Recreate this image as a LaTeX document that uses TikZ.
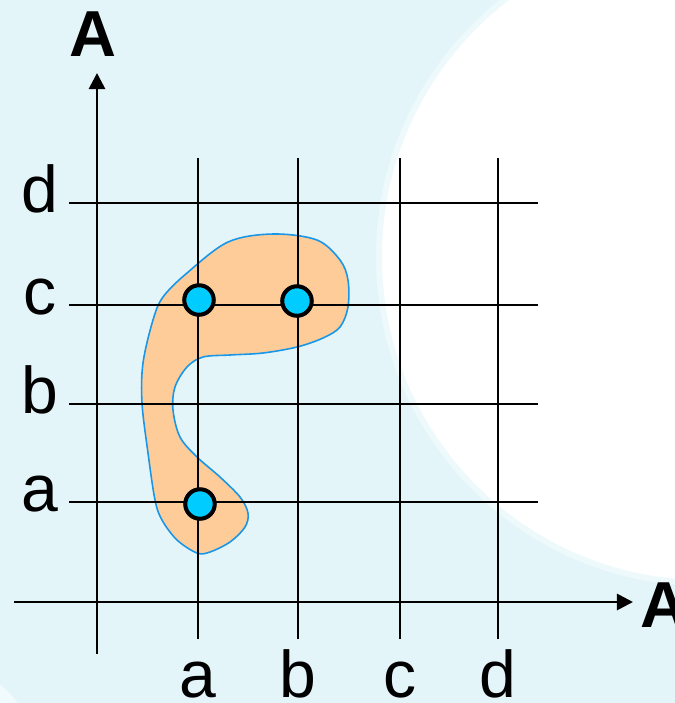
\documentclass[tikz,border=0pt]{standalone}
\usepackage{fontspec}
\setmainfont{Liberation Sans}
\usetikzlibrary{arrows.meta}
\definecolor{bgblue}{RGB}{228,245,250}
\definecolor{blobfill}{RGB}{253,204,153}
\definecolor{blobline}{RGB}{25,150,230}
\definecolor{dotcyan}{RGB}{0,204,255}

\begin{document}
\begin{tikzpicture}[
    lbl/.style={font=\fontsize{18.8}{22}\selectfont,inner sep=0pt},
    axl/.style={font=\fontsize{18.5}{22}\selectfont\bfseries,inner sep=0pt,anchor=base},
    grd/.style={line width=0.7pt},
    axis/.style={line width=0.8pt,-{Triangle[length=1.6mm,width=1.6mm]}},
    pt/.style={circle,draw,line width=1.15pt,fill=dotcyan,minimum size=2.95mm,inner sep=0pt}
  ]
    % background and the pale disc
    \fill[bgblue] (-0.97,-1.01) rectangle (5.78,6.02);
    \useasboundingbox (-0.97,-1.01) rectangle (5.78,6.02);
    \begin{scope}
      \clip (-0.97,-1.01) rectangle (5.78,6.02);
      \fill[white,opacity=0.4] (6.08,3.45) circle (3.29);
      \fill[white] (6.08,3.45) circle (3.23);
      \fill[white,opacity=0.5] (-1.6,-1.6) circle (1.0);
    \end{scope}

    % grid
    \foreach \x/\n in {1.01/a,2.01/b,3.03/c,4.01/d} {
      \draw[grd] (\x,-0.37) -- (\x,4.44);
      \node[lbl,anchor=base] (x\n) at (\x,-0.955) {\n};
    }
    \foreach \y/\n in {1.00/a,1.98/b,2.97/c,3.99/d} {
      \draw[grd] (-0.28,\y) -- (4.41,\y);
      \node[lbl,anchor=mid] (y\n) at (-0.57,\y) {\n};
    }

    % axes
    \coordinate (o1) at (0,-0.52);
    \coordinate (o2) at (-0.83,0);
    \node[axl] (ya) at (-0.04,5.46) {A};
    \node[axl] (xa) at (5.67,-0.25) {A};
    \draw[axis] (o1) -- (0,5.29);
    \draw[axis] (o2) -- (5.36,0);

    % the region
    \draw[blobline,fill=blobfill,line width=0.45pt] plot[smooth cycle,tension=0.55] coordinates {
      (1.31,3.60) (1.76,3.68) (2.20,3.62) (2.43,3.42) (2.51,3.22) (2.51,2.95)
      (2.43,2.75) (2.26,2.64) (2.00,2.55) (1.66,2.49) (1.33,2.47) (1.06,2.45)
      (0.90,2.35) (0.78,2.15) (0.76,1.92) (0.83,1.65) (1.00,1.45) (1.23,1.25)
      (1.43,1.05) (1.51,0.89) (1.48,0.75) (1.33,0.60) (1.13,0.50) (1.00,0.49)
      (0.80,0.62) (0.65,0.82) (0.58,1.02) (0.51,1.49) (0.45,1.99) (0.46,2.39)
      (0.56,2.82) (0.66,3.05) (0.90,3.29)};
    \draw[grd] (1.01,0.45) -- (1.01,3.65);
    \draw[grd] (2.01,2.5) -- (2.01,3.7);
    \draw[grd] (0.4,2.97) -- (2.6,2.97);
    \draw[grd] (0.4,1.00) -- (1.6,1.00);
    \draw[grd] (0.4,1.98) -- (0.9,1.98);

    % points
    \node[pt] (ca) at (1.02,3.02) {};
    \node[pt] (cb) at (2.00,3.01) {};
    \node[pt] (aa) at (1.03,0.98) {};
  \end{tikzpicture}
\end{document}
